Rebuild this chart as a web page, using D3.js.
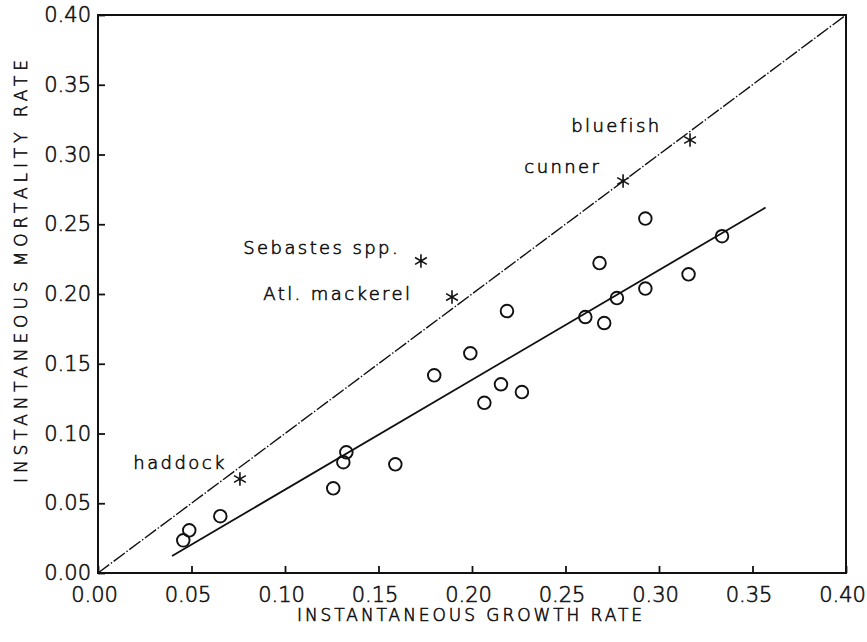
<!DOCTYPE html>
<html>
<head>
<meta charset="utf-8">
<script src="https://cdn.jsdelivr.net/npm/d3@7"></script>
<style>
  body { margin: 0; background: #fff; }
  text { font-family: "DejaVu Sans", sans-serif; fill: #111; stroke: #111; stroke-width: 0.6px; font-weight: 200; }
  .tick-label { font-size: 21px; letter-spacing: 0px; }
  .axis-title { font-size: 17px; }
  .fish-label { font-size: 18px; letter-spacing: 2.4px; }
</style>
</head>
<body>
<div id="chart"></div>
<script>
// Chart data
//= ================================
var growthRate = [0.0456, 0.0488, 0.0654, 0.1258, 0.1312, 0.1328, 0.1590, 0.1798, 0.1991, 0.2066,
  0.2155, 0.2267, 0.2187, 0.2606, 0.2707, 0.2775, 0.2682, 0.2927, 0.2927, 0.3158, 0.3337];
var mortalityRate = [0.0234, 0.0306, 0.0407, 0.0607, 0.0794, 0.0865, 0.0779, 0.1417, 0.1575, 0.1220,
  0.1353, 0.1297, 0.1878, 0.1835, 0.1792, 0.1971, 0.2222, 0.2541, 0.2039, 0.2141, 0.2414];

// named species (asterisks)
var fishNames = ["haddock", "Sebastes spp.", "Atl. mackerel", "cunner", "bluefish"];
var fishGrowth = [0.0759, 0.1727, 0.1893, 0.2808, 0.3166];
var fishMortality = [0.0674, 0.2237, 0.1978, 0.2810, 0.3104];
// where each name is written (data units: start x, baseline y)
var labelX = [0.0189, 0.0777, 0.0884, 0.2280, 0.2531];
var labelY = [0.0743, 0.2290, 0.1955, 0.2865, 0.3159];

// fitted regression line end points and 1:1 line
var fitLineX = [0.0396, 0.3570];
var fitLineY = [0.0122, 0.2620];
var oneToOne = [0, 0.40];

var tickValues = [0, 0.05, 0.10, 0.15, 0.20, 0.25, 0.30, 0.35, 0.40];

// Set up chart
//= ================================
var svgWidth = 867;
var svgHeight = 642;
var margin = { top: 15, right: 21, bottom: 69, left: 98 };
var width = svgWidth - margin.left - margin.right;
var height = svgHeight - margin.top - margin.bottom;

var svg = d3.select("#chart")
  .append("svg")
  .attr("width", svgWidth)
  .attr("height", svgHeight);

var chartGroup = svg.append("g")
  .attr("transform", `translate(${margin.left}, ${margin.top})`);

var xScale = d3.scaleLinear().domain([0, 0.40]).range([0, width]);
var yScale = d3.scaleLinear().domain([0, 0.40]).range([height, 0]);

// frame
chartGroup.append("rect")
  .attr("width", width)
  .attr("height", height)
  .attr("fill", "none")
  .attr("stroke", "#111")
  .attr("stroke-width", 2);

// axes with inward ticks
var bottomAxis = d3.axisBottom(xScale)
  .tickValues(tickValues)
  .tickSizeInner(-7)
  .tickSizeOuter(0)
  .tickPadding(14)
  .tickFormat(d3.format(".2f"));
var leftAxis = d3.axisLeft(yScale)
  .tickValues(tickValues)
  .tickSizeInner(-7)
  .tickSizeOuter(0)
  .tickPadding(7)
  .tickFormat(d3.format(".2f"));

var xAxisG = chartGroup.append("g")
  .attr("transform", `translate(0, ${height})`)
  .call(bottomAxis);
var yAxisG = chartGroup.append("g")
  .call(leftAxis);

[xAxisG, yAxisG].forEach(function(g) {
  g.select(".domain").remove();
  g.selectAll("line").attr("stroke", "#111").attr("stroke-width", 1.8);
  g.selectAll("text")
    .attr("class", "tick-label")
    .attr("fill", "#111")
    .attr("font-size", null)
    .attr("font-family", null);
});
xAxisG.selectAll("text").attr("dy", "0.71em").attr("dx", "-4px");

// axis titles
chartGroup.append("text")
  .attr("class", "axis-title")
  .attr("x", 199)
  .attr("y", height + 48)
  .attr("textLength", 345)
  .attr("lengthAdjust", "spacing")
  .text("INSTANTANEOUS GROWTH RATE");

chartGroup.append("text")
  .attr("class", "axis-title")
  .attr("transform", "rotate(-90)")
  .attr("x", -(height - 90))
  .attr("y", -margin.left + 27)
  .attr("textLength", 423)
  .attr("lengthAdjust", "spacing")
  .text("INSTANTANEOUS MORTALITY RATE");

// 1:1 line, dash-dot
chartGroup.append("line")
  .attr("x1", xScale(oneToOne[0]))
  .attr("y1", yScale(oneToOne[0]))
  .attr("x2", xScale(oneToOne[1]))
  .attr("y2", yScale(oneToOne[1]))
  .attr("stroke", "#111")
  .attr("stroke-width", 1.4)
  .attr("stroke-dasharray", "14,2,1.5,2");

// regression line
chartGroup.append("line")
  .attr("x1", xScale(fitLineX[0]))
  .attr("y1", yScale(fitLineY[0]))
  .attr("x2", xScale(fitLineX[1]))
  .attr("y2", yScale(fitLineY[1]))
  .attr("stroke", "#111")
  .attr("stroke-width", 1.8);

// open circles
chartGroup.selectAll("circle.obs")
  .data(d3.range(growthRate.length))
  .enter()
  .append("circle")
  .attr("class", "obs")
  .attr("cx", i => xScale(growthRate[i]))
  .attr("cy", i => yScale(mortalityRate[i]))
  .attr("r", 6.3)
  .attr("fill", "none")
  .attr("stroke", "#111")
  .attr("stroke-width", 1.9);

// asterisks for named species
var asterisk = d3.symbol().type(d3.symbolAsterisk).size(130);
chartGroup.selectAll("path.fish")
  .data(d3.range(fishNames.length))
  .enter()
  .append("path")
  .attr("class", "fish")
  .attr("d", asterisk)
  .attr("transform", i => `translate(${xScale(fishGrowth[i])}, ${yScale(fishMortality[i])})`)
  .attr("fill", "none")
  .attr("stroke", "#111")
  .attr("stroke-width", 1.6);

chartGroup.selectAll("text.fish-label")
  .data(d3.range(fishNames.length))
  .enter()
  .append("text")
  .attr("class", "fish-label")
  .attr("x", i => xScale(labelX[i]))
  .attr("y", i => yScale(labelY[i]))
  .text(i => fishNames[i]);
</script>
</body>
</html>
